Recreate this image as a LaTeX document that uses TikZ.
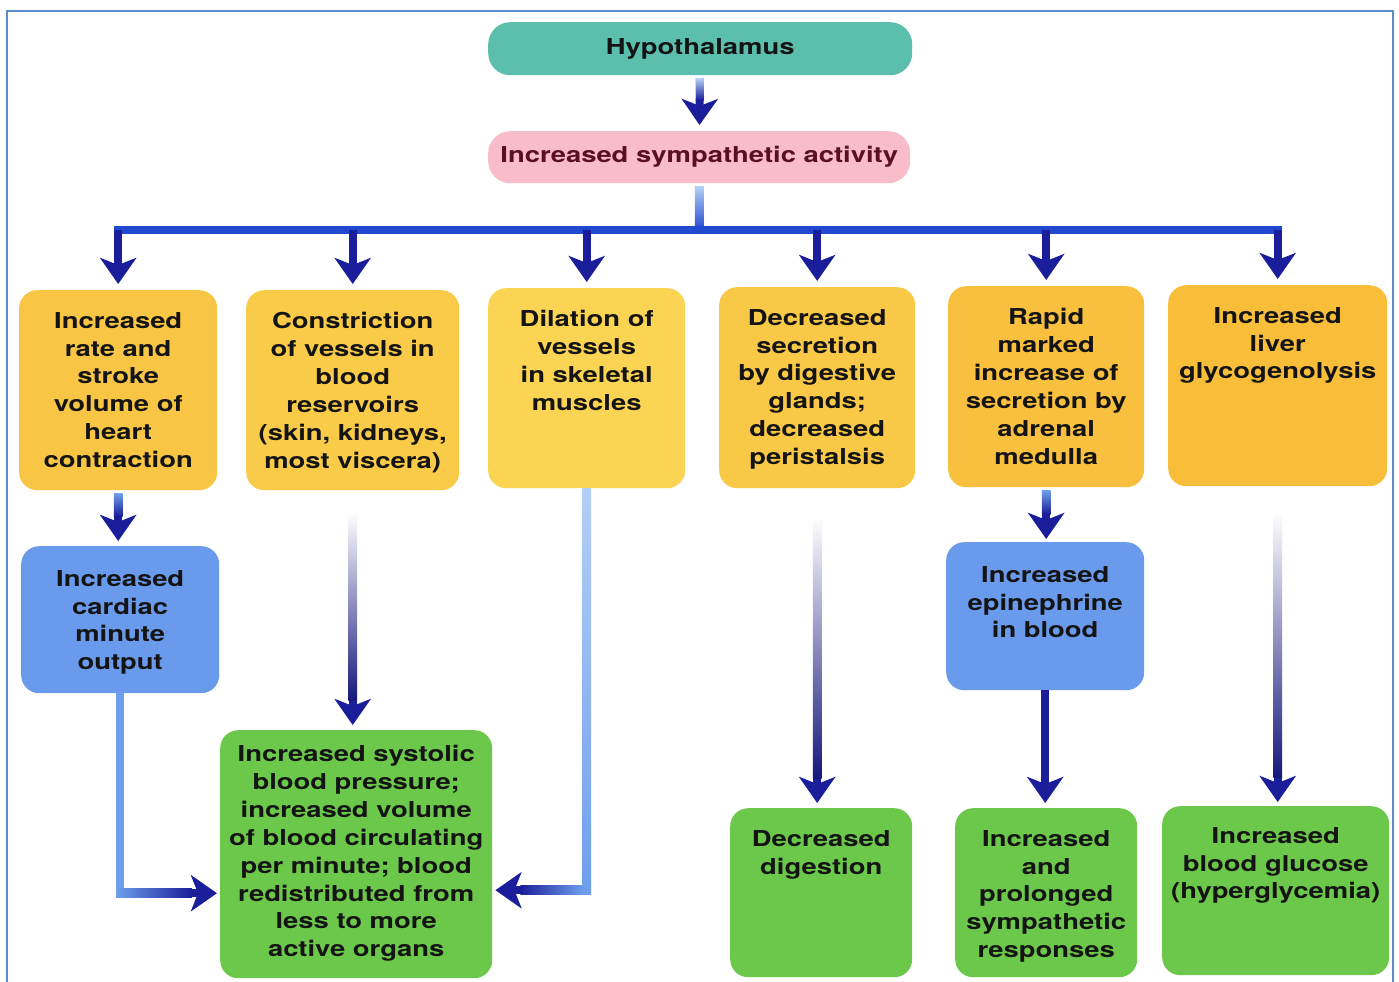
\documentclass[tikz,border=0pt]{standalone}
\usepackage{fontspec}
\setmainfont{TeX Gyre Heros}[FakeStretch=1.25]
\usetikzlibrary{arrows.meta,calc}
\definecolor{hypfill}{HTML}{5CBFAE}
\definecolor{symfill}{HTML}{F8BCCB}
\definecolor{symtext}{HTML}{5A1020}
\definecolor{oA}{HTML}{F8C544}
\definecolor{oB}{HTML}{F9CB48}
\definecolor{oC}{HTML}{FAD452}
\definecolor{oD}{HTML}{F9C846}
\definecolor{oE}{HTML}{F8C03E}
\definecolor{oF}{HTML}{F8BE3A}
\definecolor{bluebox}{HTML}{6A9AEC}
\definecolor{greenbox}{HTML}{6CC84A}
\definecolor{navy}{HTML}{1B1E9A}
\definecolor{barblue}{HTML}{2049CF}
\definecolor{lightblue}{HTML}{6E9EEC}
\definecolor{paleblue}{HTML}{B4CFF6}
\definecolor{framec}{HTML}{5B8BC9}
\definecolor{txtc}{HTML}{141414}
% vertical gradient over a shaft: #1 upper point, #2 lower point
\newcommand\vgrad[4]{%
  \shade[top color=#3, bottom color=#4] ($(#1)+(-4.4,0)$) rectangle ($(#2)+(4.4,0)$);}
% horizontal gradient over a shaft: #1 left point, #2 right point
\newcommand\hgrad[4]{%
  \shade[left color=#3, right color=#4] ($(#1)+(0,-4.4)$) rectangle ($(#2)+(0,4.4)$);}
\begin{document}
\begin{tikzpicture}[x=1bp,y=-1bp,
  box/.style={draw=none, rounded corners=18bp, inner sep=0pt, anchor=north west},
  txt/.style={inner sep=0pt, align=center, anchor=north, text=txtc,
    font=\bfseries\fontsize{22}{28}\selectfont},
  myshaft/.style={line width=8bp, line cap=butt},
  conn/.style={draw=navy, line width=8bp,
    -{Stealth[width=36bp,length=26bp,inset=7bp]}, shorten >=6bp},
]
\useasboundingbox (0,0) rectangle (1399,981);
\fill[white] (0,0) rectangle (1399,981);
\draw[framec, line width=2.5bp] (7,995) -- (7,11) -- (1393,11) -- (1393,995);

% top nodes
\node[box, rounded corners=22bp, fill=hypfill, minimum width=424bp, minimum height=53bp,
  font=\bfseries\fontsize{22}{28}\selectfont, text=txtc] (hyp) at (488,22) {Hypothalamus};
\node[box, rounded corners=22bp, fill=symfill, minimum width=422bp, minimum height=52bp,
  font=\bfseries\fontsize{22}{28}\selectfont, text=symtext] (sym) at (488,131) {Increased sympathetic activity};

% first row
\node[box, fill=oA, minimum width=198bp, minimum height=200bp] (b1) at (19,290) {};
\node[box, fill=oB, minimum width=213bp, minimum height=200bp] (b2) at (246,290) {};
\node[box, fill=oC, minimum width=197bp, minimum height=200bp] (b3) at (488,288) {};
\node[box, fill=oD, minimum width=196bp, minimum height=201bp] (b4) at (719,287) {};
\node[box, fill=oE, minimum width=196bp, minimum height=201bp] (b5) at (948,286) {};
\node[box, fill=oF, minimum width=219bp, minimum height=201bp] (b6) at (1168,285) {};

\node[txt] (b1t) at ($(b1.north)+(0,22)$) {Increased\\rate and\\stroke\\volume of\\heart\\contraction};
\node[txt] (b2t) at ($(b2.north)+(0,22)$) {Constriction\\of vessels in\\blood\\reservoirs\\(skin, kidneys,\\most viscera)};
\node[txt] (b3t) at ($(b3.north)+(0,22)$) {Dilation of\\vessels\\in skeletal\\muscles};
\node[txt] (b4t) at ($(b4.north)+(0,22)$) {Decreased\\secretion\\by digestive\\glands;\\decreased\\peristalsis};
\node[txt] (b5t) at ($(b5.north)+(0,22)$) {Rapid\\marked\\increase of\\secretion by\\adrenal\\medulla};
\node[txt] (b6t) at ($(b6.north)+(0,22)$) {Increased\\liver\\glycogenolysis};

% second row
\node[box, fill=bluebox, minimum width=198bp, minimum height=147bp] (card) at (21,546) {};
\node[box, fill=bluebox, minimum width=198bp, minimum height=148bp] (epi) at (946,542) {};
\node[txt] (cardt) at ($(card.north)+(0,24)$) {Increased\\cardiac\\minute\\output};
\node[txt] (epit) at ($(epi.north)+(0,24)$) {Increased\\epinephrine\\in blood};

% bottom row
\node[box, fill=greenbox, minimum width=272bp, minimum height=248bp] (grn) at (220,730) {};
\node[box, fill=greenbox, minimum width=182bp, minimum height=169bp] (dig) at (730,808) {};
\node[box, fill=greenbox, minimum width=182bp, minimum height=169bp] (prol) at (955,808) {};
\node[box, fill=greenbox, minimum width=227bp, minimum height=169bp] (glu) at (1162,806) {};
\node[txt] (grnt) at ($(grn.north)+(0,15)$) {Increased systolic\\blood pressure;\\increased volume\\of blood circulating\\per minute; blood\\redistributed from\\less to more\\active organs};
\node[txt] (digt) at ($(dig.north)+(0,22)$) {Decreased\\digestion};
\node[txt] (prolt) at ($(prol.north)+(0,22)$) {Increased\\and\\prolonged\\sympathetic\\responses};
\node[txt] (glut) at ($(glu.north)+(0,21)$) {Increased\\blood glucose\\(hyperglycemia)};

% hypothalamus -> sympathetic
\draw[conn, shorten <=3bp] (hyp) -- (sym);
\coordinate (a1) at ($(hyp.south)+(0,3)$);
\coordinate (a2) at ($(sym.north)+(0,-31)$);
\vgrad{a1}{a2}{paleblue}{navy}

% sympathetic -> bus
\coordinate (bar) at (700,230);
\coordinate (j) at (sym.south |- bar);
\coordinate (j0) at ($(sym.south)+(0,3)$);
\vgrad{j0}{j}{paleblue}{barblue}
\draw[myshaft, barblue, line cap=rect] (b1.north |- bar) -- (b6.north |- bar);
\foreach \b in {b1,b2,b3,b4,b5,b6}{
  \draw[conn] (\b.north |- bar) -- (\b.north);
}

% b1 -> cardiac
\draw[conn, shorten <=3bp, shorten >=5bp] (b1.south) -- (b1.south |- card.north);
\coordinate (e1) at ($(b1.south)+(0,3)$);
\coordinate (e2) at ($(b1.south |- card.north)+(0,-30)$);
\vgrad{e1}{e2}{lightblue}{navy}

% b2 -> green
\draw[conn, shorten >=5bp, shorten <=22bp] (b2.south) -- (b2.south |- grn.north);
\coordinate (f1) at ($(b2.south)+(0,22)$);
\coordinate (f2) at ($(b2.south |- grn.north)+(0,-30)$);
\vgrad{f1}{f2}{white}{navy!80!black}

% cardiac -> green
\coordinate (g1) at ($(grn.west)+(0,39)$);
\draw[conn, shorten >=3bp] (card.south) |- (g1);
\coordinate (gc) at (card.south |- g1);
\draw[myshaft, lightblue] (card.south) -- ($(gc)+(0,4)$);
\coordinate (g0) at ($(gc)+(-4,0)$);
\coordinate (g2) at ($(g1)+(-28,0)$);
\hgrad{g0}{g2}{lightblue}{navy}

% b3 -> green
\coordinate (h1) at ($(grn.east)+(0,36)$);
\draw[conn, shorten >=3bp] (b3.south) |- (h1);
\coordinate (hc) at (b3.south |- h1);
\coordinate (hc2) at ($(hc)+(0,4)$);
\vgrad{b3.south}{hc2}{paleblue}{lightblue}
\coordinate (hc3) at ($(hc)+(-4,0)$);
\coordinate (h2) at ($(h1)+(28,0)$);
\hgrad{h2}{hc3}{navy}{lightblue}

% b4 -> digestion
\draw[conn, shorten >=5bp, shorten <=28bp] (b4.south) -- (b4.south |- dig.north);
\coordinate (i1) at ($(b4.south)+(0,28)$);
\coordinate (i2) at ($(b4.south |- dig.north)+(0,-30)$);
\vgrad{i1}{i2}{white}{navy!80!black}

% b5 -> epinephrine
\draw[conn, shorten <=3bp, shorten >=3bp] (b5.south) -- (b5.south |- epi.north);
\coordinate (k1) at ($(b5.south)+(0,3)$);
\coordinate (k2) at ($(b5.south |- epi.north)+(0,-28)$);
\vgrad{k1}{k2}{lightblue}{navy}

% epinephrine -> prolonged
\draw[conn, shorten >=5bp] (epi.south) -- (epi.south |- prol.north);

% b6 -> glucose
\draw[conn, shorten >=4bp, shorten <=26bp] (b6.south) -- (b6.south |- glu.north);
\coordinate (l1) at ($(b6.south)+(0,26)$);
\coordinate (l2) at ($(b6.south |- glu.north)+(0,-29)$);
\vgrad{l1}{l2}{white}{navy!80!black}
\end{tikzpicture}
\end{document}
